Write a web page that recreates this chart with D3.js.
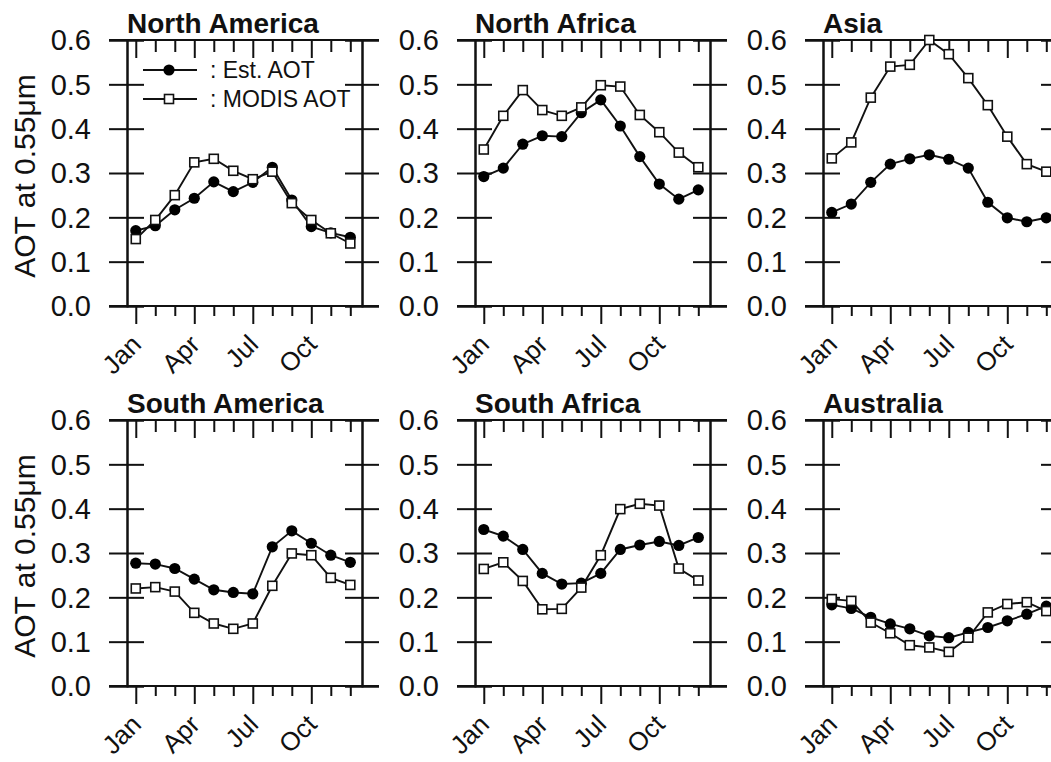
<!doctype html>
<html lang="en">
<head>
  <meta charset="utf-8">
  <title>AOT monthly comparison</title>
  <script src="https://d3js.org/d3.v7.min.js"></script>
  <style>
    body { margin: 0; background: #fff; }
    svg { display: block; font-family: 'Liberation Sans', Arial, sans-serif; }
  </style>
</head>
<body>
<svg id="chart" width="1051" height="762"></svg>
<script>
// month index 1..12, labels only on Jan/Apr/Jul/Oct
const months = [1,2,3,4,5,6,7,8,9,10,11,12];
const monthLabels = {1: "Jan", 4: "Apr", 7: "Jul", 10: "Oct"};
const yTicks = [0, 0.1, 0.2, 0.3, 0.4, 0.5, 0.6];

const regions = ["North America", "North Africa", "Asia", "South America", "South Africa", "Australia"];

// Est. AOT (filled circles)
const estNAm = [0.170, 0.181, 0.217, 0.243, 0.280, 0.258, 0.279, 0.313, 0.239, 0.179, 0.165, 0.155];
const estNAf = [0.292, 0.311, 0.365, 0.384, 0.382, 0.436, 0.465, 0.406, 0.337, 0.275, 0.241, 0.262];
const estAsia = [0.211, 0.230, 0.279, 0.320, 0.332, 0.341, 0.331, 0.311, 0.234, 0.199, 0.190, 0.199];
const estSAm = [0.277, 0.275, 0.265, 0.241, 0.217, 0.211, 0.208, 0.314, 0.350, 0.322, 0.295, 0.279];
const estSAf = [0.353, 0.338, 0.308, 0.254, 0.230, 0.232, 0.254, 0.308, 0.318, 0.326, 0.317, 0.335];
const estAus = [0.183, 0.175, 0.155, 0.140, 0.129, 0.113, 0.109, 0.121, 0.132, 0.147, 0.162, 0.180];

// MODIS AOT (open squares)
const modNAm = [0.151, 0.194, 0.250, 0.324, 0.332, 0.305, 0.286, 0.303, 0.232, 0.194, 0.164, 0.141];
const modNAf = [0.353, 0.429, 0.487, 0.442, 0.429, 0.448, 0.498, 0.495, 0.431, 0.392, 0.346, 0.313];
const modAsia = [0.333, 0.369, 0.470, 0.540, 0.544, 0.600, 0.568, 0.514, 0.453, 0.382, 0.320, 0.303];
const modSAm = [0.220, 0.223, 0.213, 0.165, 0.141, 0.129, 0.141, 0.226, 0.299, 0.295, 0.244, 0.228];
const modSAf = [0.264, 0.279, 0.237, 0.173, 0.174, 0.222, 0.295, 0.399, 0.411, 0.407, 0.265, 0.238];
const modAus = [0.196, 0.192, 0.143, 0.119, 0.092, 0.087, 0.077, 0.109, 0.166, 0.185, 0.189, 0.169];

const estAll = [estNAm, estNAf, estAsia, estSAm, estSAf, estAus];
const modAll = [modNAm, modNAf, modAsia, modSAm, modSAf, modAus];

const svg = d3.select("#chart");
const W = 235, H = 266;
const lefts = [127, 475, 823];
const tops = [40, 420];

const x = d3.scaleLinear().domain([0.55, 12.6]).range([0, W]);
const y = d3.scaleLinear().domain([0, 0.6]).range([H, 0]);
const line = d3.line().x((d, i) => x(months[i])).y(d => y(d));

function styleAxis(g) {
  g.select(".domain").attr("stroke", "#111").attr("stroke-width", 2);
  g.selectAll(".tick line").attr("stroke", "#111").attr("stroke-width", 2);
}

regions.forEach((name, k) => {
  const g = svg.append("g")
    .attr("transform", `translate(${lefts[k % 3]},${tops[Math.floor(k / 3)]})`);

  // y axes: ticks crossing the frame on both sides
  g.append("g").call(d3.axisLeft(y).tickValues(yTicks).tickSize(18).tickFormat(""))
    .call(styleAxis);
  g.append("g").call(d3.axisRight(y).tickValues(yTicks).tickSize(17).tickFormat(""))
    .call(styleAxis);
  g.append("g").attr("transform", `translate(${W},0)`)
    .call(d3.axisRight(y).tickValues(yTicks).tickSize(17).tickFormat("")).call(styleAxis);
  g.append("g").attr("transform", `translate(${W},0)`)
    .call(d3.axisLeft(y).tickValues(yTicks).tickSize(17).tickFormat("")).call(styleAxis);

  // bottom axis: outward ticks, long at quarter months
  const xb = g.append("g").attr("transform", `translate(0,${H})`)
    .call(d3.axisBottom(x).tickValues(months).tickSize(10).tickFormat(""))
    .call(styleAxis);
  xb.selectAll(".tick line").attr("y2", d => monthLabels[d] ? 18 : 10);
  xb.select(".domain").attr("d", `M${-18},0H${W + 17}`);

  // top axis: inward ticks
  const xt = g.append("g")
    .call(d3.axisBottom(x).tickValues(months).tickSize(12).tickFormat(""))
    .call(styleAxis);
  xt.selectAll(".tick line").attr("y2", d => monthLabels[d] ? 18 : 12);
  xt.select(".domain").attr("d", `M${-18},0H${W + 17}`);

  // y tick labels
  g.selectAll("text.ylab").data(yTicks).join("text")
    .attr("class", "ylab")
    .attr("x", -36).attr("y", d => y(d))
    .attr("dy", "0.36em")
    .attr("text-anchor", "end")
    .attr("font-size", 29)
    .attr("fill", "#111")
    .text(d => d.toFixed(1));

  // x tick labels, rotated
  g.selectAll("text.xlab").data(months.filter(m => monthLabels[m])).join("text")
    .attr("class", "xlab")
    .attr("transform", d => `translate(${x(d) + 7},${H + 40}) rotate(-45)`)
    .attr("text-anchor", "end")
    .attr("font-size", 26)
    .attr("fill", "#111")
    .text(d => monthLabels[d]);

  // title
  g.append("text")
    .attr("x", 0).attr("y", -7)
    .attr("font-size", 28)
    .attr("font-weight", "bold")
    .attr("fill", "#111")
    .text(name);

  // series
  g.append("path").datum(modAll[k]).attr("d", line)
    .attr("fill", "none").attr("stroke", "#111").attr("stroke-width", 1.9);
  g.append("path").datum(estAll[k]).attr("d", line)
    .attr("fill", "none").attr("stroke", "#111").attr("stroke-width", 1.9);

  g.selectAll("circle.est").data(estAll[k]).join("circle")
    .attr("class", "est")
    .attr("cx", (d, i) => x(months[i])).attr("cy", d => y(d))
    .attr("r", 5.6).attr("fill", "#000");

  g.selectAll("rect.mod").data(modAll[k]).join("rect")
    .attr("class", "mod")
    .attr("x", (d, i) => x(months[i]) - 4.5).attr("y", d => y(d) - 4.5)
    .attr("width", 9).attr("height", 9)
    .attr("fill", "#fff").attr("stroke", "#111").attr("stroke-width", 1.6);
});

// y axis titles
tops.forEach(t => {
  svg.append("text")
    .attr("transform", `translate(35,${t + H / 2 + 3}) rotate(-90)`)
    .attr("text-anchor", "middle")
    .attr("font-size", 30)
    .attr("fill", "#111")
    .text("AOT at 0.55\u03bcm");
});

// legend in the first panel
const leg = svg.append("g").attr("transform", `translate(${lefts[0]},${tops[0]})`);
const legRows = [{label: ": Est. AOT", mark: "circle", yy: 30}, {label: ": MODIS AOT", mark: "square", yy: 59}];
legRows.forEach(r => {
  leg.append("line").attr("x1", 16).attr("x2", 70).attr("y1", r.yy).attr("y2", r.yy)
    .attr("stroke", "#111").attr("stroke-width", 1.9);
  if (r.mark === "circle") {
    leg.append("circle").attr("cx", 42).attr("cy", r.yy).attr("r", 5.6).attr("fill", "#000");
  } else {
    leg.append("rect").attr("x", 37.5).attr("y", r.yy - 4.5).attr("width", 9).attr("height", 9)
      .attr("fill", "#fff").attr("stroke", "#111").attr("stroke-width", 1.6);
  }
  leg.append("text").attr("x", 83).attr("y", r.yy).attr("dy", "0.36em")
    .attr("font-size", 23).attr("fill", "#111").text(r.label);
});
</script>
</body>
</html>
